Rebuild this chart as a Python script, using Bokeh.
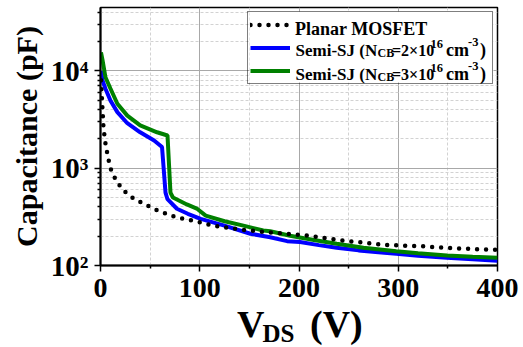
from bokeh.plotting import figure
from bokeh.layouts import column
from bokeh.models import (Range1d, FixedTicker, CustomJSTickFormatter, Legend,
                          LegendItem, Label, BoxAnnotation, Div)
from bokeh.core.properties import value
from bokeh.embed import file_html
from bokeh.resources import INLINE

# ---------------- data ----------------
volt_planar = [0.5, 1.5, 3, 5, 7.5, 10, 12, 16, 20, 25, 32, 40, 50, 57, 65, 74, 85,
               99, 110, 124, 145, 168, 185, 203, 225, 245, 265, 282, 300, 322, 340,
               359, 380, 400]
cap_planar = [8000, 5000, 2600, 1800, 1300, 1000, 890, 740, 650, 570, 500, 450, 400,
              370, 345, 320, 300, 280, 262, 247, 232, 220, 212, 206, 192, 180, 172,
              164, 161, 158, 154, 150, 147, 145]

volt_blue = [0.5, 2, 5, 10, 17, 27, 40, 54, 62, 65.5, 67.5, 77, 88, 101, 124, 151,
             171, 188, 201, 220, 238, 260, 280, 298, 320, 349, 375, 400]
cap_blue = [10000, 8000, 6550, 4970, 3770, 2900, 2340, 1930, 1650, 560, 480, 383,
            340, 302, 258, 212, 195, 178, 174, 162, 152, 143, 137, 132, 126, 120,
            116, 112]

volt_green = [0.5, 2, 5, 10, 17, 27, 40, 57, 67.5, 70.5, 73, 87, 97, 106, 125, 144,
              164, 171, 191, 215, 238, 265, 298, 320, 349, 375, 400]
cap_green = [15500, 13000, 8600, 6600, 4600, 3470, 2750, 2340, 2170, 560, 500, 424,
             385, 326, 285, 257, 229, 225, 202, 183, 167, 152, 140, 134, 127, 123, 120]

x_ticks = [0, 100, 200, 300, 400]
x_minor = [50, 150, 250, 350]
y_ticks = [100, 1000, 10000]
y_tick_labels = ["10\u00b2", "10\u00b3", "10\u2074"]
y_minor = [m * 10 ** e for e in (2, 3, 4) for m in range(2, 10)]

FONT = "Liberation Serif"
MAIN_H = 310

# ---------------- main figure ----------------
p = figure(width=523, height=MAIN_H, x_range=Range1d(0, 400),
           y_range=Range1d(100, 44840), y_axis_type="log", output_backend="svg",
           toolbar_location=None, min_border_left=100, min_border_right=26,
           min_border_top=7, min_border_bottom=MAIN_H - 265)
p.outline_line_color = "black"
p.outline_line_width = 1.5
p.background_fill_color = "white"

xt = FixedTicker(ticks=x_ticks, minor_ticks=x_minor)
yt = FixedTicker(ticks=y_ticks, minor_ticks=y_minor)
p.xaxis.ticker = xt
p.yaxis.ticker = yt
p.xgrid.ticker = xt
p.ygrid.ticker = yt
p.yaxis.formatter = CustomJSTickFormatter(
    args=dict(yvals=y_ticks, ylabs=y_tick_labels),
    code="""
    for (let i = 0; i < yvals.length; i++) {
        if (Math.abs(yvals[i] - tick) < 1e-6 * yvals[i]) return ylabs[i];
    }
    return '';
    """)

for g in (p.xgrid, p.ygrid):
    g.grid_line_color = "#a8a8a8"
    g.grid_line_width = 1
    g.minor_grid_line_color = "#d2d2d2"
    g.minor_grid_line_dash = "3 2"
    g.minor_grid_line_width = 1

for ax in (p.xaxis, p.yaxis):
    ax.axis_line_width = 2
    ax.axis_line_color = "black"
    ax.major_tick_line_width = 1.5
    ax.minor_tick_line_width = 1.5
    ax.major_tick_out = 6
    ax.major_tick_in = 0
    ax.minor_tick_out = 3
    ax.minor_tick_in = 0
    ax.major_label_text_font = FONT
    ax.major_label_text_font_style = "bold"
    ax.major_label_text_font_size = "28px"
    ax.major_label_text_color = "black"

p.xaxis.major_label_standoff = 7
p.yaxis.major_label_standoff = 6
p.yaxis.major_label_text_font_size = "29px"
p.yaxis.axis_label = "Capacitance (pF)"
p.yaxis.axis_label_text_font = FONT
p.yaxis.axis_label_text_font_style = "bold"
p.yaxis.axis_label_text_font_size = "30px"
p.yaxis.axis_label_text_color = "black"
p.yaxis.axis_label_standoff = 5


# ---------------- page-pixel placement helpers (annotations only) ----------------
def dx(px):
    return (px - 100) * 400 / 397


def dy(py):
    return 10 ** (2 + (265 - py) / 97.3)


# white backing for the legend box (covers grid lines, sits under the text)
p.add_layout(BoxAnnotation(left=dx(249), right=dx(493), top=dy(11), bottom=dy(82),
                           fill_color="white", fill_alpha=1, line_color=None,
                           level="underlay"))

# ---------------- curves ----------------
r_b = p.line(volt_blue, cap_blue, line_color="#0000ff", line_width=4)
r_g = p.line(volt_green, cap_green, line_color="#008000", line_width=4)
r_p = p.line(volt_planar, cap_planar, line_color="black", line_width=4.5,
             line_dash="0 9", line_cap="round")

legend = Legend(items=[LegendItem(label=value(""), renderers=[r_p]),
                       LegendItem(label=value(""), renderers=[r_b]),
                       LegendItem(label=value(""), renderers=[r_g])],
                location="top_right", margin=4, padding=2, spacing=2,
                glyph_width=40, glyph_height=21, label_width=200, label_height=21,
                label_standoff=0, label_text_font_size="8px",
                border_line_color="black", border_line_width=1.5,
                background_fill_alpha=0)
p.add_layout(legend)


def lab(text, px, py, size):
    p.add_layout(Label(x=dx(px), y=dy(py), x_units="data", y_units="data", text=text,
                       text_font=FONT, text_font_style="bold",
                       text_font_size=f"{size}px", text_color="black",
                       text_align="left", text_baseline="alphabetic",
                       level="overlay"))


lab("Planar MOSFET", 294.5, 28, 18)
for base, conc in ((49.5, "=2\u00d710"), (73.7, "=3\u00d710")):
    lab("Semi-SJ (N", 295, base, 17)
    lab("CB", 377, base + 3, 12)
    lab(conc, 391.5, base, 16)
    lab("16", 430, base - 6, 12.5)
    lab("cm", 445.5, base, 18)
    lab("-3", 467.5, base - 8, 12.5)
    lab(")", 479.5, base, 18)

# ---------------- x-axis title (HTML strip below the plot) ----------------
STRIP_H = 347 - MAIN_H
span = ("<span style=\"position:absolute; left:{x}px; top:{t}px; "
        "font-family:'Liberation Serif'; font-weight:bold; font-size:{s}px; "
        "line-height:1; color:black; white-space:nowrap;\">{txt}</span>")
xlabel_html = ("<div style=\"position:relative; width:523px; height:%dpx;\">" % STRIP_H
               + span.format(x=237, t=-5, s=38, txt="V")
               + span.format(x=262.5, t=11, s=25, txt="DS")
               + span.format(x=310, t=-5, s=38, txt="(V)")
               + "</div>")
xlabel = Div(text=xlabel_html, width=523, height=STRIP_H, margin=0)

layout = column(p, xlabel, spacing=0)
open("out.html", "w").write(file_html(layout, INLINE))
